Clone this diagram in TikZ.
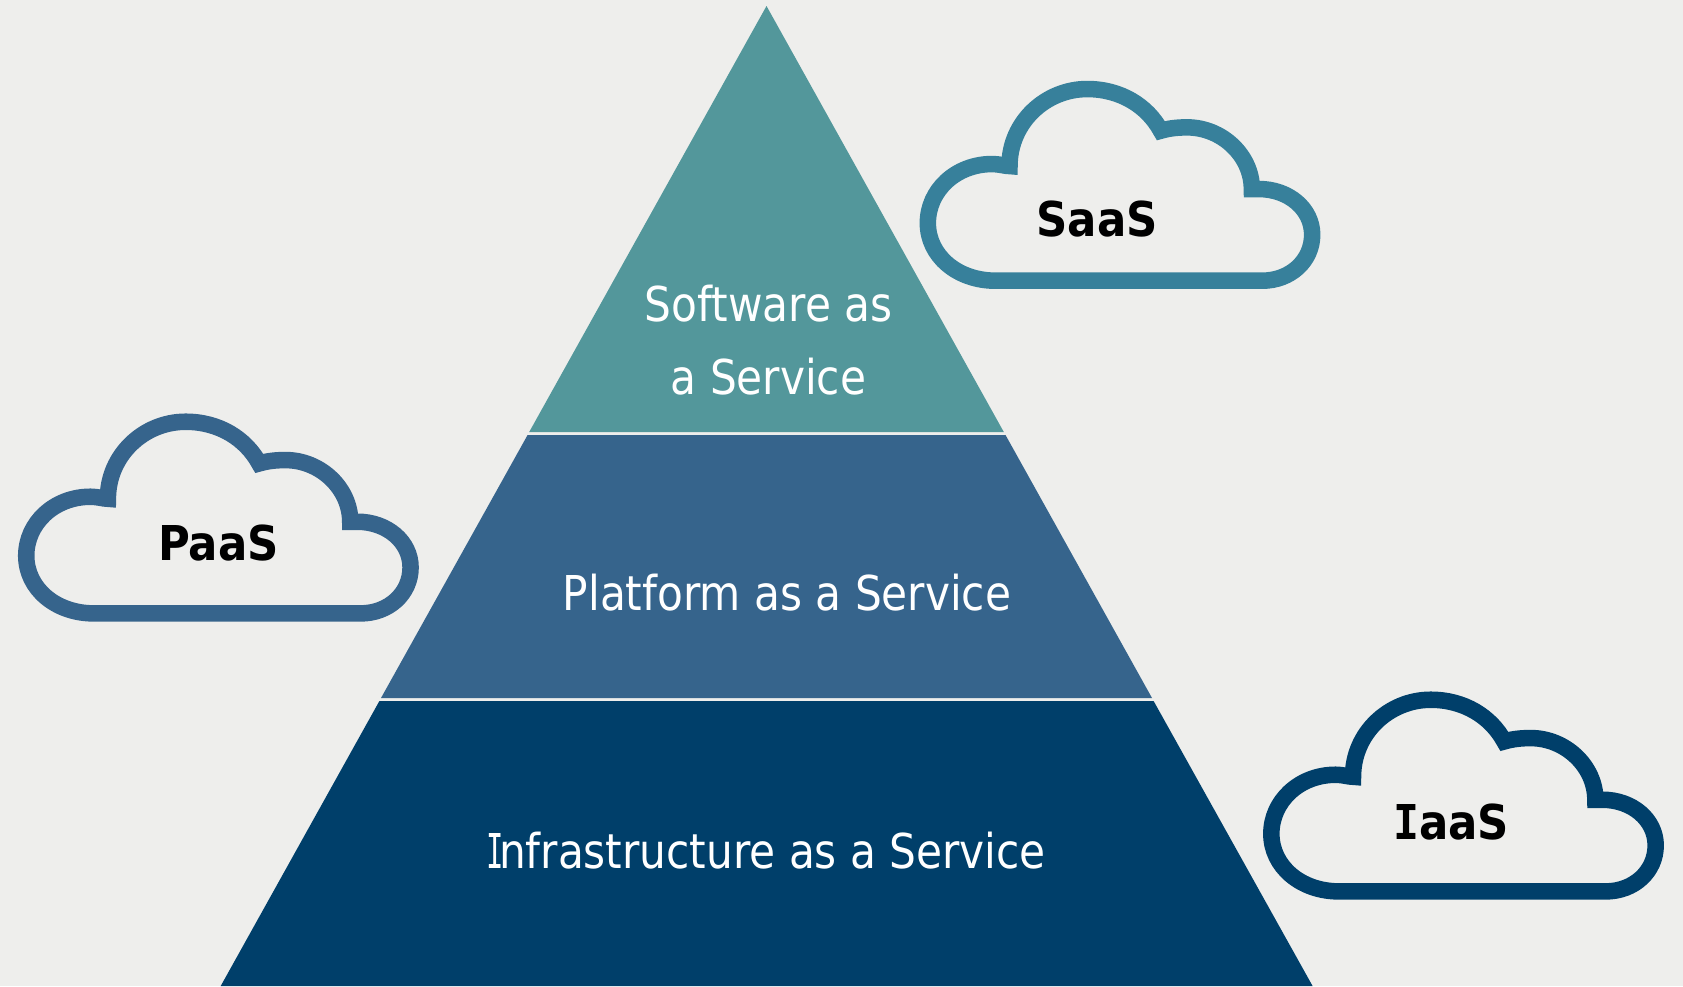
\documentclass[tikz,border=0pt]{standalone}
\usepackage{fontspec}
\setmainfont[FakeStretch=0.88]{DejaVu Sans}
\newfontfamily\boldlabel[FakeStretch=0.905]{DejaVu Sans Bold}
\newfontfamily\slabI[FakeStretch=0.6]{DejaVu Sans Mono}
\newfontfamily\slabboldI[FakeStretch=0.9]{DejaVu Sans Mono Bold}
\definecolor{bgc}{HTML}{EEEEEC}
\definecolor{tealc}{HTML}{53979B}
\definecolor{bluec}{HTML}{36648C}
\definecolor{darkc}{HTML}{003F6A}
\definecolor{saasc}{HTML}{37809B}
\tikzset{
  layertext/.style={text=white,font=\fontsize{36}{54.75}\selectfont,anchor=base,inner sep=0pt,align=center},
  cloudtext/.style={text=black,font=\boldlabel\fontsize{36}{42}\selectfont,anchor=base,inner sep=0pt},
  cloudline/.style={line width=12.4pt,miter limit=10,line join=miter},
  pics/cloud/.style={code={
    \draw[cloudline,draw=#1,x=0.25pt,y=-0.25pt]
      (285,660) -- (1085,660)
      .. controls (1170,660) and (1235,600) .. (1235,522)
      .. controls (1235,445) and (1165,385) .. (1075,385)
      -- (1054,385)
      .. controls (1054,285) and (965,200) .. (860,200)
      .. controls (830,200) and (805,203) .. (781,210)
      .. controls (740,135) and (660,85) .. (560,85)
      .. controls (435,85) and (327,185) .. (327,316)
      .. controls (312,316) and (297,310) .. (275,310)
      .. controls (165,310) and (82,390) .. (82,487)
      .. controls (82,585) and (170,660) .. (285,660) -- cycle;
  }}
}
\begin{document}
\begin{tikzpicture}[x=0.75pt,y=-0.75pt]
\useasboundingbox (0,0) rectangle (1683,986);
\fill[bgc] (0,0) rectangle (1683,986);
\fill[tealc] (766.5,6) -- (1003.8,432) -- (529.2,432) -- cycle;
\fill[bluec] (527.6,435) -- (1005.5,435) -- (1152,698) -- (381,698) -- cycle;
\fill[darkc] (379.4,701) -- (1153.6,701) -- (1312.6,986) -- (220.7,986) -- cycle;
\pic at (900.5,60.7) {cloud=saasc};
\pic at (-1.1,393.4) {cloud=bluec};
\pic at (1244,671.4) {cloud=darkc};
\node[layertext] (software) at (768.5,394) {Software as\\a Service};
\node[layertext] (platform) at (787,610) {Platform as a Service};
\node[layertext] (infra) at (766,868) {{\slabI I}\kern-3.4pt nfrastructure as a Service};
\node[cloudtext] (saas) at (1097,236) {SaaS};
\node[cloudtext] (paas) at (218.5,560) {PaaS};
\node[cloudtext] (iaas) at (1451,839.5) {{\slabboldI I}aaS};
\end{tikzpicture}
\end{document}
